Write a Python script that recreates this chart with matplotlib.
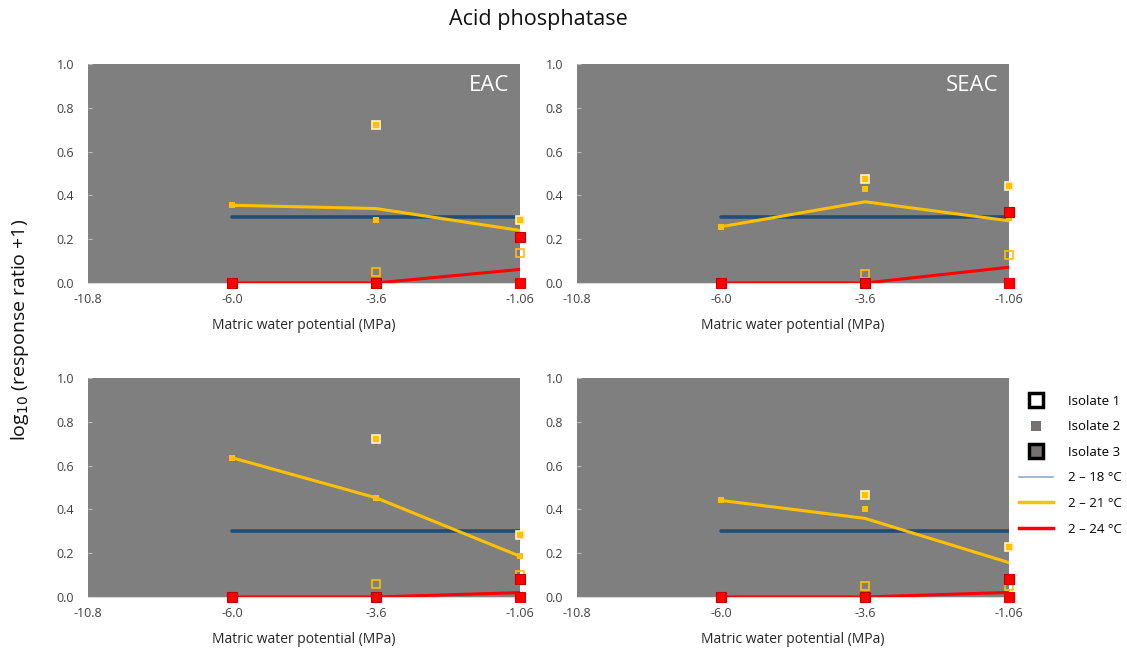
import numpy as np
import matplotlib.pyplot as plt
from matplotlib.lines import Line2D

plt.rcParams['font.family'] = ['Open Sans', 'DejaVu Sans']

# categories on the x axis (evenly spaced, Excel style)
potentials = ['-10.8', '-6.0', '-3.6', '-1.06']
panel_names = ['EAC', 'SEAC', '', '']

# mean response per temperature regime, at -6.0, -3.6, -1.06 MPa
line_18 = [[0.30, 0.30, 0.30], [0.30, 0.30, 0.30], [0.30, 0.30, 0.30], [0.30, 0.30, 0.30]]
line_21 = [[0.355, 0.34, 0.24], [0.257, 0.371, 0.284], [0.636, 0.453, 0.186], [0.441, 0.359, 0.157]]
line_24 = [[0.0, 0.0, 0.062], [0.0, 0.0, 0.072], [0.0, 0.0, 0.020], [0.0, 0.0, 0.021]]

nan = np.nan
# single isolates, 2-21 °C
iso1_21 = [[nan, 0.049, 0.135], [nan, 0.043, 0.128], [nan, 0.058, 0.100], [nan, 0.050, 0.050]]
iso2_21 = [[0.355, 0.288, nan], [0.257, 0.428, 0.297], [0.636, 0.453, 0.186], [0.441, 0.400, nan]]
iso3_21 = [[nan, 0.721, 0.286], [nan, 0.475, 0.443], [nan, 0.720, 0.282], [nan, 0.464, 0.228]]
# single isolates, 2-24 °C
iso2_24 = [[nan, nan, 0.0], [nan, nan, 0.0], [nan, nan, 0.0], [nan, nan, 0.0]]
iso3_24 = [[0.0, 0.0, 0.211], [0.0, 0.0, 0.326], [0.0, 0.0, 0.081], [0.0, 0.0, 0.081]]

c18 = '#1f4e79'
c21 = '#ffc000'
c24 = '#ff0000'
bg = '#7f7f7f'

fig = plt.figure(figsize=(11.27, 6.48), dpi=100)
W, H = 1127, 648
boxes = [(88, 64), (577, 64), (88, 378), (577, 378)]
pw, ph = 432, 219

px = [1, 2, 3]  # positions of -6.0, -3.6, -1.06
for i, (x0, y0) in enumerate(boxes):
    ax = fig.add_axes([x0 / W, 1 - (y0 + ph) / H, pw / W, ph / H])
    ax.set_facecolor(bg)
    for s in ['top', 'right', 'left']:
        ax.spines[s].set_visible(False)
    ax.spines['bottom'].set_color('#d9d9d9')
    ax.set_xlim(0, 3)
    ax.set_ylim(0, 1.0)
    ax.set_xticks(range(4))
    ax.set_xticklabels(potentials, fontsize=9, color='#404040')
    yt = np.arange(0, 1.01, 0.2)
    ax.set_yticks(yt)
    ax.set_yticklabels(['%.1f' % v for v in yt], fontsize=9, color='#404040')
    ax.tick_params(axis='x', length=0, pad=7)
    ax.tick_params(axis='y', length=3, color='#bfbfbf', direction='in', pad=10)
    ax.set_xlabel('Matric water potential (MPa)', fontsize=10, color='#262626', labelpad=9)

    ax.plot(px, line_18[i], color=c18, lw=2.6, solid_capstyle='round', zorder=3)
    ax.plot(px, line_21[i], color=c21, lw=2.2, zorder=4)
    ax.plot(px, line_24[i], color=c24, lw=2.2, zorder=4)

    ax.plot(px, iso1_21[i], 's', ms=5.5, mfc='none', mec=c21, mew=1.2, clip_on=False, zorder=5)
    ax.plot(px, iso2_21[i], 's', ms=4.8, mfc=c21, mew=0, clip_on=False, zorder=5)
    ax.plot(px, iso3_21[i], 's', ms=6, mfc=c21, mec='#fff2cc', mew=1.2, clip_on=False, zorder=5)
    ax.plot(px, iso2_24[i], 's', ms=6.5, mfc=c24, mec='#e00000', mew=0.8, clip_on=False, zorder=6)
    ax.plot(px, iso3_24[i], 's', ms=6.5, mfc=c24, mec='#c00000', mew=0.8, clip_on=False, zorder=6)

    if panel_names[i]:
        ax.text(0.975, 0.9, panel_names[i], transform=ax.transAxes, ha='right', va='center',
                fontsize=16, color='white')

fig.text(538 / W, 1 - 19 / H, 'Acid phosphatase', ha='center', va='center', fontsize=15.5, color='#111111')
fig.text(20 / W, 1 - 330 / H, r'log$_{10}$ (response ratio +1)', ha='center', va='center',
         rotation=90, fontsize=14, color='#111111')

handles = [
    Line2D([], [], marker='s', ls='none', ms=10, mfc='white', mec='black', mew=2.5),
    Line2D([], [], marker='s', ls='none', ms=7, mfc='#767171', mew=0),
    Line2D([], [], marker='s', ls='none', ms=10, mfc='#767171', mec='black', mew=2.5),
    Line2D([], [], color='#8faadc', lw=1.2),
    Line2D([], [], color=c21, lw=2.5),
    Line2D([], [], color=c24, lw=2.5),
]
labels = ['Isolate 1', 'Isolate 2', 'Isolate 3', '2 \u2013 18 \u00b0C', '2 \u2013 21 \u00b0C', '2 \u2013 24 \u00b0C']
fig.legend(handles, labels, loc='upper left', bbox_to_anchor=(1007 / W, 1 - 383 / H),
           frameon=False, fontsize=9.5, handlelength=2.6, labelspacing=0.95, handletextpad=1.1)

fig.savefig('out.png', dpi=100, facecolor='white')
